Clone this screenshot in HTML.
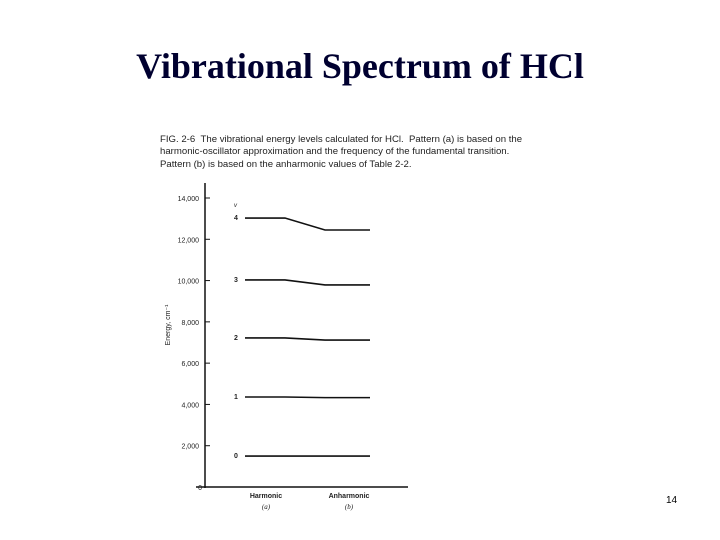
<!DOCTYPE html>
<html><head><meta charset="utf-8"><style>
body{margin:0;background:#fff;}
#wrap{position:relative;width:720px;height:540px;overflow:hidden;background:#fff;}
h1{position:absolute;top:45px;left:0;width:720px;text-align:center;margin:0;font-family:"Liberation Serif",serif;font-weight:bold;font-size:36px;color:#000030;}
.cap{position:absolute;left:160px;font-family:"Liberation Sans",sans-serif;font-size:9.6px;color:#222;white-space:nowrap;}
#pn{position:absolute;left:666px;top:495px;font-family:"Liberation Sans",sans-serif;font-size:10px;color:#000;}
</style></head><body>
<div id="wrap">
<h1>Vibrational Spectrum of HCl</h1>
<div class="cap" style="top:134px">FIG. 2-6 &nbsp;The vibrational energy levels calculated for HCl. &nbsp;Pattern (a) is based on the</div>
<div class="cap" style="top:146px">harmonic-oscillator approximation and the frequency of the fundamental transition.</div>
<div class="cap" style="top:159px">Pattern (b) is based on the anharmonic values of Table 2-2.</div>
<svg id="chart" width="720" height="540" style="position:absolute;left:0;top:0"></svg>
<div id="pn">14</div>
</div>
<script>
const levels=[0,1,2,3,4];
const harmonic=[1500,4360,7220,10030,13030];
const anharmonic=[1500,4330,7120,9790,12450];
const yTicks=[0,2000,4000,6000,8000,10000,12000,14000];
const yTickLabels=["0","2,000","4,000","6,000","8,000","10,000","12,000","14,000"];
const categories=["Harmonic","Anharmonic"];
const catSub=["(a)","(b)"];
const NS="http://www.w3.org/2000/svg";
const svg=document.getElementById('chart');
const y=v=>487-v*(289/14000);
function mk(t,a,txt){const e=document.createElementNS(NS,t);for(const k in a)e.setAttribute(k,a[k]);if(txt!==undefined)e.textContent=txt;svg.appendChild(e);return e;}
let e;
e=mk('line',{x1:205,y1:183,x2:205,y2:488,stroke:'#111','stroke-width':1.5});


e=mk('line',{x1:196,y1:487,x2:408,y2:487,stroke:'#111','stroke-width':1.5});


yTicks.forEach((t,i)=>{
 if(i>0){e=mk('line',{x1:205,y1:y(t),x2:210,y2:y(t),stroke:'#111','stroke-width':1});
 
 }
 e=mk('text',{x:i==0?202:199,y:y(t)+3,'text-anchor':'end','font-family':'Liberation Sans, sans-serif','font-size':7,fill:'#222'},yTickLabels[i]);
 
 
});
e=mk('text',{x:0,y:0,transform:'translate(170,325) rotate(-90)','text-anchor':'middle','font-family':'Liberation Sans, sans-serif','font-size':7,fill:'#222'},'Energy, cm\u207B\u00B9');


e=mk('text',{x:234,y:207,'font-family':'Liberation Sans, sans-serif','font-size':6,'font-style':'italic',fill:'#222'},'v');


levels.forEach((v,i)=>{
 const ya=y(harmonic[i]),yb=y(anharmonic[i]);
 e=mk('polyline',{points:`245,${ya} 285,${ya} 325,${yb} 370,${yb}`,fill:'none',stroke:'#111','stroke-width':1.6});
 
 
 e=mk('text',{x:236,y:ya+2,'text-anchor':'middle','font-family':'Liberation Sans, sans-serif','font-size':7,'font-weight':'bold',fill:'#222'},String(v));
 
 
});
const cx=[266,349];
categories.forEach((c,i)=>{
 e=mk('text',{x:cx[i],y:498,'text-anchor':'middle','font-family':'Liberation Sans, sans-serif','font-size':7,'font-weight':'bold',fill:'#222'},c);
 
 
 e=mk('text',{x:cx[i],y:509,'text-anchor':'middle','font-family':'Liberation Serif, serif','font-size':7,'font-style':'italic',fill:'#222'},catSub[i]);
 
 
});
</script>
</body></html>
